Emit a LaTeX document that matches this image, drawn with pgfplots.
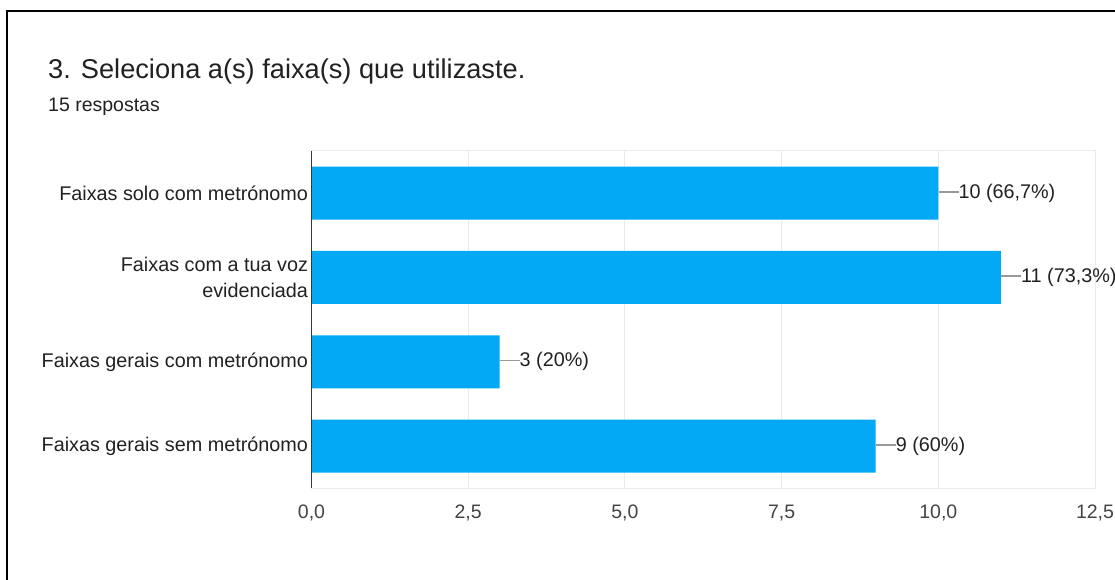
\documentclass[border=0pt]{standalone}
\usepackage{pgfplots}
\pgfplotsset{compat=1.18}
\usepackage{fontspec}
\setmainfont{Liberation Sans}
\definecolor{barblue}{HTML}{03A9F4}
\definecolor{txt}{HTML}{212121}
\definecolor{ticktxt}{HTML}{444444}
\definecolor{gridc}{HTML}{EBEBEB}
\definecolor{linec}{HTML}{999999}
\begin{document}
\begin{tikzpicture}
\path[use as bounding box] (0pt,0pt) rectangle (1115pt,580pt);
\draw[line width=2pt, black] (7pt,0pt) -- (7pt,569pt) -- (1115pt,569pt);
\node[anchor=base west, inner sep=0pt, text=txt, font=\fontsize{27.2}{32}\selectfont] at (48pt,501.7pt) {3. Seleciona a(s) faixa(s) que utilizaste.};
\node[anchor=base west, inner sep=0pt, text=txt, font=\fontsize{19.5}{24}\selectfont] at (48pt,468.3pt) {15 respostas};
\begin{axis}[
  at={(311.5pt,91.7pt)}, anchor=south west,
  scale only axis, width=783.5pt, height=337.3pt,
  xbar, bar width=53pt,
  xmin=0, xmax=12.5, ymin=-0.5, ymax=3.5, y dir=reverse,
  xtick={0,2.5,5,7.5,10,12.5}, ytick={0,1,2,3},
  yticklabels={Faixas solo com metrónomo, {Faixas com a tua voz\\evidenciada}, Faixas gerais com metrónomo, Faixas gerais sem metrónomo},
  major tick length=0pt,
  xmajorgrids, ymajorgrids=false,
  grid style={gridc, line width=1pt},
  axis line style={gridc, line width=1pt},
  /pgf/number format/.cd, use comma, fixed, fixed zerofill, precision=1, assume math mode=true,
  /pgfplots/.cd,
  xticklabel style={text=ticktxt, font=\fontsize{19.5}{22}\selectfont, yshift=-13pt},
  yticklabel style={align=right, text=txt, font=\fontsize{19.8}{26}\selectfont},
  clip=false,
]
\addplot[fill=barblue, draw=none, point meta=explicit symbolic,
  nodes near coords={\textcolor{linec}{\rule[0.28em]{20pt}{1.8pt}}\pgfplotspointmeta},
  every node near coord/.append style={anchor=west, inner xsep=0pt, text=txt, font=\fontsize{19.8}{24}\selectfont},
] coordinates {
  (10,0) [{10 (66,7\%)}]
  (11,1) [{11 (73,3\%)}]
  (3,2) [{3 (20\%)}]
  (9,3) [{9 (60\%)}]
};
\draw[txt!90, line width=1.5pt] (axis cs:0,-0.5) -- (axis cs:0,3.5);
\end{axis}
\end{tikzpicture}
\end{document}
